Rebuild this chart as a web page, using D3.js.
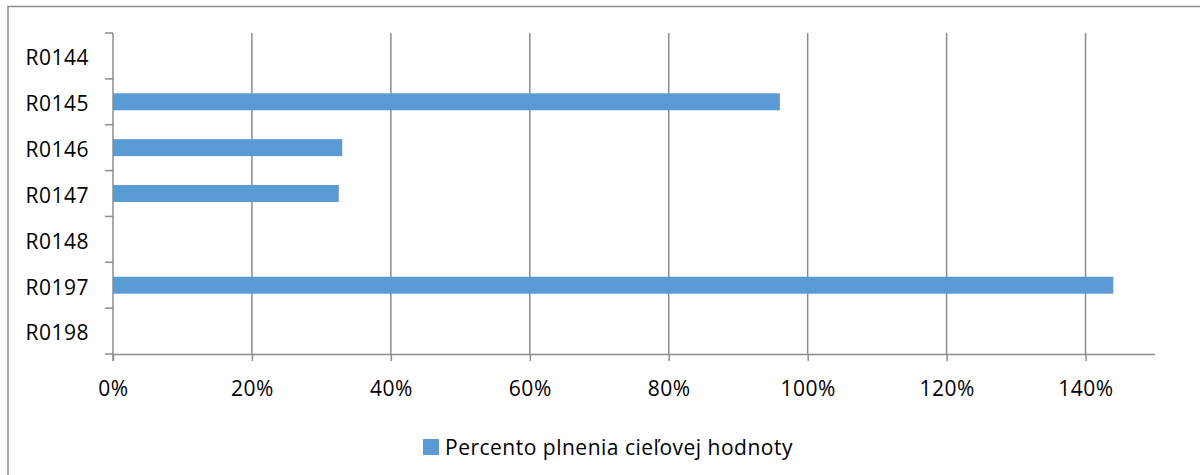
<!DOCTYPE html>
<html><head><meta charset="utf-8">
<script src="https://cdn.jsdelivr.net/npm/d3@7"></script>
<style>
html,body{margin:0;padding:0;background:#fff;overflow:hidden}
svg{display:block}
text{font-family:"Open Sans","Noto Sans",sans-serif;fill:#000;letter-spacing:0.5px}
</style></head>
<body>
<svg id="chart" width="1200" height="475"></svg>
<script>
const categories = ["R0144","R0145","R0146","R0147","R0148","R0197","R0198"];
const values = [null, 0.96, 0.33, 0.325, null, 1.44, null];
const xTicks = [0,0.2,0.4,0.6,0.8,1.0,1.2,1.4];
const seriesName = "Percento plnenia cieľovej hodnoty";

const svg = d3.select("#chart");
const m = {left:113, right:1155, top:33, bottom:354};
const grid = "#8c8c8c";
const barColor = "#5B9BD5";
const fs = 21;

// outer chart border
svg.append("rect").attr("x",8).attr("y",6.5).attr("width",1300).attr("height",600)
  .attr("fill","none").attr("stroke",grid).attr("stroke-width",1.5);

const x = d3.scaleLinear().domain([0,1.5]).range([m.left,m.right]);
const y = d3.scaleBand().domain(categories).range([m.top,m.bottom]).paddingInner(0.63).paddingOuter(0.315);
const yb = d3.scaleBand().domain(categories).range([m.top,m.bottom]);

// gridlines
svg.append("g").selectAll("line").data(xTicks.slice(1)).join("line")
  .attr("x1",d=>x(d)).attr("x2",d=>x(d)).attr("y1",m.top).attr("y2",m.bottom)
  .attr("stroke",grid).attr("stroke-width",1.5);

// bars
svg.append("g").selectAll("rect").data(categories.map((c,i)=>({c,v:values[i]})).filter(d=>d.v!=null)).join("rect")
  .attr("x",x(0)).attr("y",d=>y(d.c)).attr("width",d=>x(d.v)-x(0)).attr("height",y.bandwidth())
  .attr("fill",barColor);

// x axis
const xAxis = d3.axisBottom(x).tickValues(xTicks).tickFormat(d3.format(".0%")).tickSize(7).tickPadding(20);
const gx = svg.append("g").attr("transform",`translate(0,${m.bottom})`).call(xAxis);
gx.select(".domain").attr("stroke",grid).attr("stroke-width",1.5).attr("d",`M${m.left},0.5H${m.right}`);
gx.selectAll(".tick line").attr("stroke",grid).attr("stroke-width",1.5);
gx.selectAll("text").attr("font-size",fs).attr("fill","#000").attr("font-family","'Open Sans',sans-serif");

// y axis
const gy = svg.append("g").attr("transform",`translate(${m.left},0)`);
gy.append("line").attr("x1",0).attr("x2",0).attr("y1",m.top).attr("y2",m.bottom+7).attr("stroke",grid).attr("stroke-width",1.5);
const boundaries = categories.map(c=>yb(c)).concat([m.bottom]);
gy.selectAll("line.tk").data(boundaries).join("line").attr("class","tk")
  .attr("x1",-8).attr("x2",0).attr("y1",d=>d).attr("y2",d=>d).attr("stroke",grid).attr("stroke-width",1.5);
gy.selectAll("text").data(categories).join("text")
  .attr("x",-24).attr("y",d=>yb(d)+yb.bandwidth()/2+2).attr("dy","0.35em")
  .attr("text-anchor","end").attr("font-size",fs).text(d=>d);

// legend
const lg = svg.append("g").attr("transform","translate(423,439)");
lg.append("rect").attr("width",16).attr("height",16).attr("fill",barColor);
lg.append("text").attr("x",22).attr("y",9).attr("dy","0.35em").attr("font-size",fs).text(seriesName);
</script>
</body></html>
